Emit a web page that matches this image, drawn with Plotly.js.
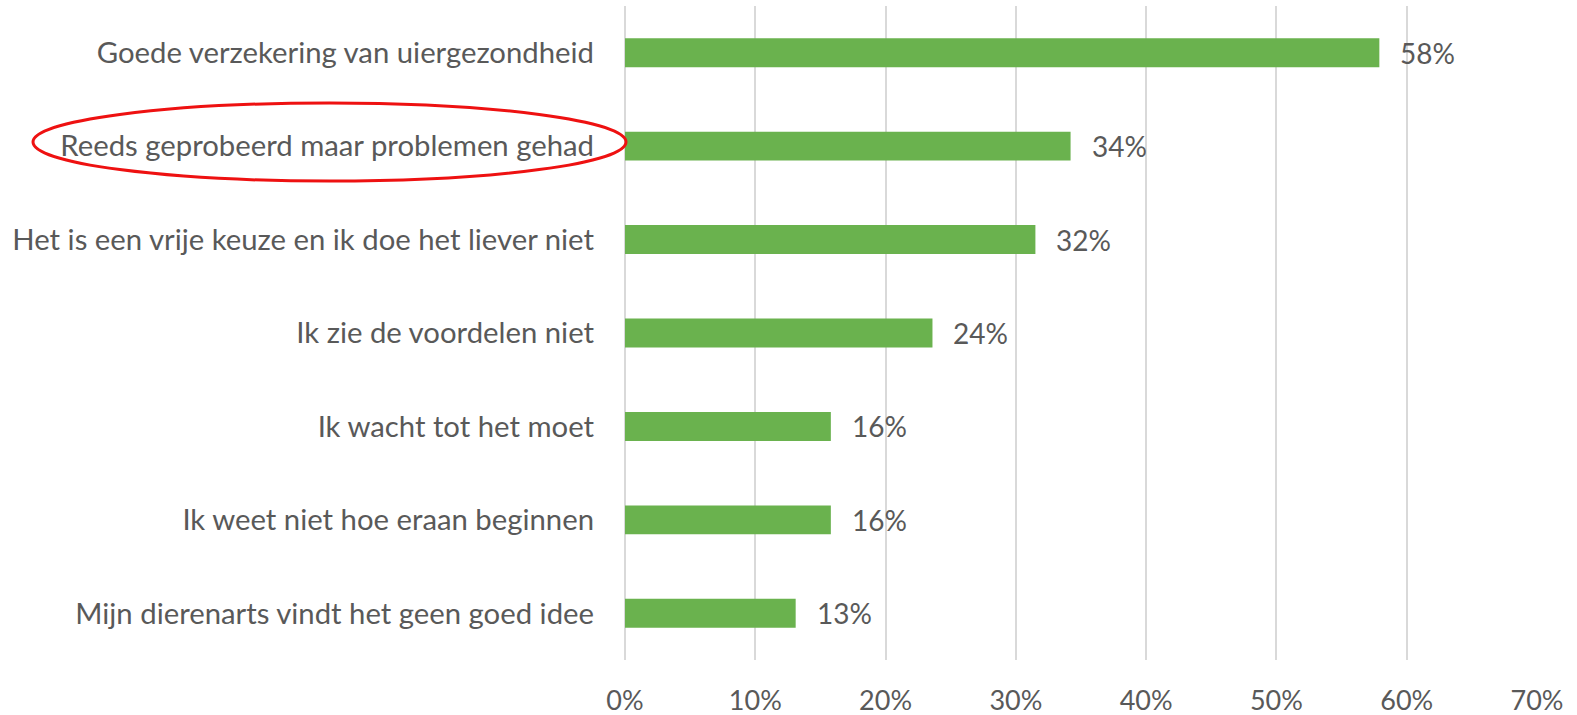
<!DOCTYPE html>
<html>
<head>
<meta charset="utf-8">
<script src="https://cdn.plot.ly/plotly-3.0.1.min.js"></script>
<style>html,body{margin:0;padding:0;background:#fff;}</style>
</head>
<body>
<div id="chart" style="width:1577px;height:715px;"></div>
<script>
const categories = [
  "Goede verzekering van uiergezondheid",
  "Reeds geprobeerd maar problemen gehad",
  "Het is een vrije keuze en ik doe het liever niet",
  "Ik zie de voordelen niet",
  "Ik wacht tot het moet",
  "Ik weet niet hoe eraan beginnen",
  "Mijn dierenarts vindt het geen goed idee"
];
const values = [57.9, 34.2, 31.5, 23.6, 15.8, 15.8, 13.1];
const valueLabels = values.map(v => Math.round(v) + "%");
const xTickValues = [0, 10, 20, 30, 40, 50, 60, 70];
const xTickLabels = ["0%", "10%", "20%", "30%", "40%", "50%", "60%", "70%"];

const FONT = "Lato, 'Open Sans', sans-serif";
const TXT = "#595959";

const trace = {
  type: "bar",
  orientation: "h",
  x: values,
  y: categories,
  marker: {color: "#6ab24e", line: {width: 0}},
  hoverinfo: "skip"
};

const annotations = values.map((v, i) => ({
  x: v, y: categories[i], xref: "x", yref: "y",
  text: valueLabels[i], showarrow: false,
  xanchor: "left", yanchor: "middle", xshift: 19,
  font: {family: FONT, size: 28, color: TXT}
}));

const layout = {
  width: 1577, height: 715,
  margin: {l: 625, r: 40, t: 6, b: 55, pad: 0},
  paper_bgcolor: "#ffffff",
  plot_bgcolor: "#ffffff",
  bargap: 0.69,
  showlegend: false,
  font: {family: FONT, size: 28, color: TXT},
  xaxis: {
    range: [0, 70],
    tickvals: xTickValues,
    ticktext: xTickLabels,
    showgrid: true, gridcolor: "#d9d9d9", gridwidth: 2,
    zeroline: true, zerolinecolor: "#d9d9d9", zerolinewidth: 2,
    showline: false,
    ticks: "", ticklabelstandoff: 22,
    tickfont: {family: FONT, size: 27, color: TXT},
    fixedrange: true
  },
  yaxis: {
    autorange: "reversed",
    type: "category",
    showgrid: false, zeroline: false, showline: false,
    ticks: "", ticklabelstandoff: 30,
    tickfont: {family: FONT, size: 29.3, color: TXT},
    fixedrange: true
  },
  annotations: annotations,
  shapes: [{
    type: "circle", xref: "paper", yref: "paper",
    x0: (33 - 625) / 912, x1: (626 - 625) / 912,
    y0: (660 - 181) / 654, y1: (660 - 103) / 654,
    line: {color: "#ee1111", width: 3},
    fillcolor: "rgba(0,0,0,0)"
  }]
};

Plotly.newPlot("chart", [trace], layout, {displayModeBar: false, staticPlot: true});
</script>
</body>
</html>
